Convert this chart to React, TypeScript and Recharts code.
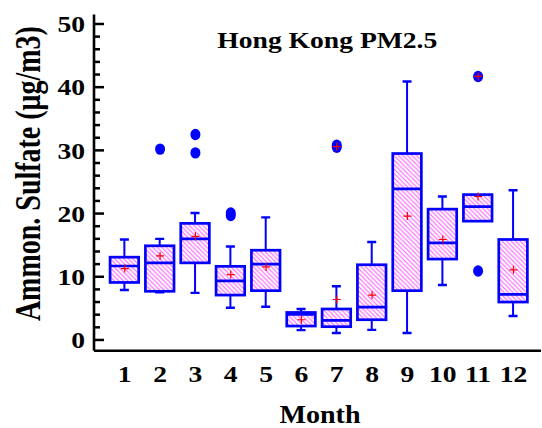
import { ComposedChart, XAxis, YAxis, Bar, Scatter, Label } from "recharts";

// monthly ammonium sulfate statistics (µg/m3)
const months = [1, 2, 3, 4, 5, 6, 7, 8, 9, 10, 11, 12];
const whiskerLow = [7.9, 7.55, 7.45, 5.1, 5.25, 1.55, 1.1, 1.6, 1.1, 8.7, 18.8, 3.8];
const lowerQuartile = [9.1, 7.7, 12.2, 7.1, 7.8, 2.2, 2.1, 3.2, 7.8, 12.8, 18.8, 6.0];
const medians = [11.7, 12.2, 16.0, 9.35, 12.0, 4.05, 3.1, 5.2, 23.9, 15.35, 21.1, 7.2];
const upperQuartile = [13.1, 14.9, 18.45, 11.65, 14.2, 4.35, 4.9, 11.9, 29.5, 20.7, 23.0, 15.9];
const whiskerHigh = [15.9, 16.0, 20.1, 14.8, 19.4, 4.9, 8.5, 15.5, 40.9, 22.7, 23.0, 23.7];
const means = [11.3, 13.3, 16.4, 10.35, 11.55, 3.2, 6.4, 7.1, 19.6, 15.9, 22.7, 11.1];

const outlierMonths = [2, 3, 3, 4, 4, 7, 7, 11, 11];
const outlierValues = [30.2, 32.5, 29.6, 19.7, 20.1, 30.5, 30.8, 41.7, 10.9];

// extreme points flagged with a red cross
const extremeMonths = [7, 11];
const extremeValues = [30.6, 41.7];

const yTicks = [0, 2, 4, 6, 8, 10, 12, 14, 16, 18, 20, 22, 24, 26, 28, 30, 32, 34, 36, 38, 40, 42, 44, 46, 48, 50];
const yDomain = [-1.7, 51.5];
const xDomain = [0.13, 12.78];

const BLUE = "#0000ff";
const FONT = "'Liberation Serif', 'Times New Roman', serif";

const boxRows = months.map((m, i) => ({
  month: m,
  lo: whiskerLow[i],
  q1: lowerQuartile[i],
  med: medians[i],
  q3: upperQuartile[i],
  hi: whiskerHigh[i],
  mean: means[i],
}));

const outlierRows = outlierMonths.map((m, i) => ({ month: m, value: outlierValues[i] }));
const extremeRows = extremeMonths.map((m, i) => ({ month: m, value: extremeValues[i] }));

const BoxShape = (props: any) => {
  const { x, y, width, height, payload } = props;
  const { lo, q1, med, q3, hi } = payload;
  const top = Math.min(y, y + height);
  const h = Math.abs(height);
  const py = (v: number) => top + ((hi - v) / (hi - lo)) * h;
  const cx = x + width / 2;
  const cap = 4.5;
  return (
    <g>
      {hi > q3 && (
        <>
          <line x1={cx} x2={cx} y1={py(hi)} y2={py(q3)} stroke={BLUE} strokeWidth={2} />
          <line x1={cx - cap} x2={cx + cap} y1={py(hi)} y2={py(hi)} stroke={BLUE} strokeWidth={2.4} />
        </>
      )}
      {lo < q1 && (
        <>
          <line x1={cx} x2={cx} y1={py(q1)} y2={py(lo)} stroke={BLUE} strokeWidth={2} />
          <line x1={cx - cap} x2={cx + cap} y1={py(lo)} y2={py(lo)} stroke={BLUE} strokeWidth={2.4} />
        </>
      )}
      <rect
        x={x}
        y={py(q3)}
        width={width}
        height={py(q1) - py(q3)}
        fill="url(#hatch)"
        stroke={BLUE}
        strokeWidth={2.7}
      />
      <line x1={x} x2={x + width} y1={py(med)} y2={py(med)} stroke={BLUE} strokeWidth={2.7} />
    </g>
  );
};

const MeanCross = ({ cx, cy }: any) => (
  <g>
    <line x1={cx - 4} x2={cx + 4} y1={cy} y2={cy} stroke="#ff0000" strokeWidth={1.2} />
    <line x1={cx} x2={cx} y1={cy - 4} y2={cy + 4} stroke="#ff0000" strokeWidth={1.2} />
  </g>
);

const OutlierDot = ({ cx, cy }: any) => <ellipse cx={cx} cy={cy} rx={5} ry={5.7} fill={BLUE} />;

const LeftTick = ({ x, y, payload }: any) => {
  const major = payload.value % 10 === 0;
  return (
    <g>
      <line x1={x} x2={x + (major ? 10 : 6)} y1={y} y2={y} stroke="#000" strokeWidth={2.5} />
      {major && (
        <text
          transform={`translate(${x - 9} ${y + 8.3}) scale(1.15 1)`}
          textAnchor="end"
          fontFamily={FONT}
          fontWeight="bold"
          fontSize={24}
          fill="#000"
        >
          {payload.value}
        </text>
      )}
    </g>
  );
};

const RightTick = ({ x, y, payload }: any) => {
  const major = payload.value % 10 === 0;
  return <line x1={x} x2={x - (major ? 10 : 6)} y1={y} y2={y} stroke="#000" strokeWidth={2.5} />;
};

const MonthTick = ({ x, y, payload }: any) => (
  <text
    transform={`translate(${x} ${y + 31}) scale(1.15 1)`}
    textAnchor="middle"
    fontFamily={FONT}
    fontWeight="bold"
    fontSize={24}
    fill="#000"
  >
    {payload.value}
  </text>
);

const YTitle = ({ viewBox }: any) => (
  <text
    transform={`translate(${viewBox.x + 40} ${viewBox.y + viewBox.height / 2 - 9}) rotate(-90) scale(1 1.25)`}
    textAnchor="middle"
    fontFamily={FONT}
    fontWeight="bold"
    fontSize={28}
    fill="#000"
  >
    Ammon. Sulfate (μg/m3)
  </text>
);

const XTitle = ({ viewBox }: any) => (
  <text
    transform={`translate(${viewBox.x + viewBox.width / 2 + 2.5} ${viewBox.y + 72}) scale(1.08 1)`}
    textAnchor="middle"
    fontFamily={FONT}
    fontWeight="bold"
    fontSize={26}
    fill="#000"
  >
    Month
  </text>
);

// title sits inside the plot frame, placed from the left axis box
const PlotTitle = ({ viewBox }: any) => (
  <text
    transform={`translate(${viewBox.x + 327.3} ${viewBox.y + 33.5}) scale(1.2 1)`}
    textAnchor="middle"
    fontFamily={FONT}
    fontWeight="bold"
    fontSize={23}
    fill="#000"
  >
    Hong Kong PM2.5
  </text>
);

const frameLine = { stroke: "#000", strokeWidth: 2.6 };

export default function App() {
  return (
    <div style={{ position: "absolute", left: 0, top: 0, background: "#fff" }}>
      <ComposedChart
        width={542}
        height={428}
        data={boxRows}
        margin={{ top: 14.5, right: 1, bottom: 0, left: 0 }}
      >
        <defs>
          <pattern id="hatch" patternUnits="userSpaceOnUse" width={4.5} height={4.5}>
            <rect width={4.5} height={4.5} fill="#fff" />
            <line x1={0} y1={0} x2={4.5} y2={4.5} stroke="#ff5cff" strokeWidth={1.1} />
            <line x1={-1} y1={3.5} x2={1} y2={5.5} stroke="#ff5cff" strokeWidth={1.1} />
            <line x1={3.5} y1={-1} x2={5.5} y2={1} stroke="#ff5cff" strokeWidth={1.1} />
          </pattern>
        </defs>
        <XAxis
          dataKey="month"
          type="number"
          domain={xDomain}
          ticks={months}
          interval={0}
          allowDataOverflow
          height={77.3}
          tickSize={0}
          tickMargin={0}
          tickLine={false}
          tick={<MonthTick />}
          axisLine={frameLine}
        >
          <Label content={<XTitle />} />
        </XAxis>
        <XAxis
          xAxisId="top"
          orientation="top"
          type="number"
          domain={xDomain}
          allowDataOverflow
          height={0}
          tick={false}
          tickLine={false}
          axisLine={frameLine}
        />
        <YAxis
          type="number"
          domain={yDomain}
          ticks={yTicks}
          interval={0}
          allowDataOverflow
          width={94}
          tickSize={0}
          tickMargin={0}
          tickLine={false}
          tick={<LeftTick />}
          axisLine={frameLine}
        >
          <Label content={<YTitle />} />
          <Label content={<PlotTitle />} />
        </YAxis>
        <YAxis
          yAxisId="right"
          orientation="right"
          type="number"
          domain={yDomain}
          ticks={yTicks}
          interval={0}
          allowDataOverflow
          width={0}
          tickSize={0}
          tickMargin={0}
          tickLine={false}
          tick={<RightTick />}
          axisLine={frameLine}
        />
        <Bar
          dataKey={(d: any) => [d.lo, d.hi]}
          barSize={28.6}
          shape={<BoxShape />}
          isAnimationActive={false}
        />
        <Scatter data={outlierRows} dataKey="value" shape={<OutlierDot />} isAnimationActive={false} />
        <Scatter dataKey="mean" shape={<MeanCross />} isAnimationActive={false} />
        <Scatter data={extremeRows} dataKey="value" shape={<MeanCross />} isAnimationActive={false} />
      </ComposedChart>
    </div>
  );
}
